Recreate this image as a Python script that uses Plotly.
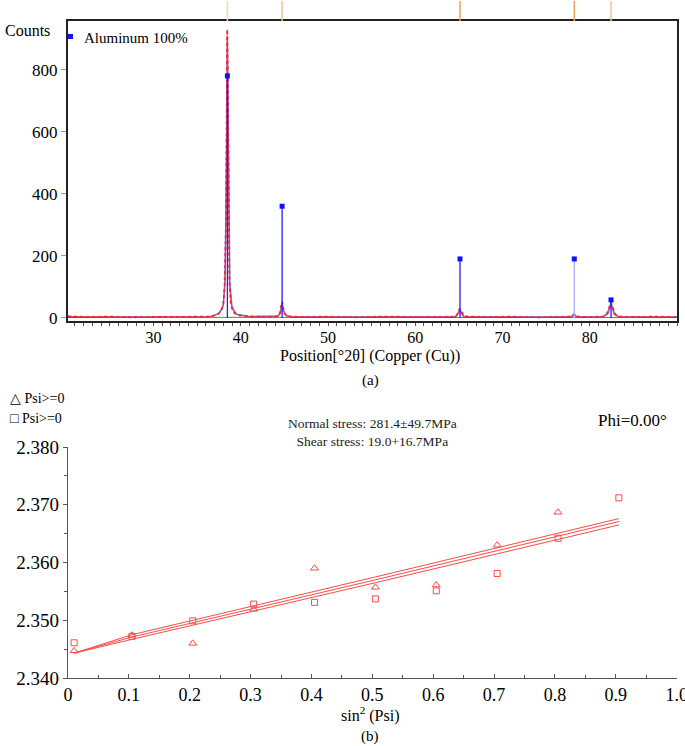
import plotly.graph_objects as go

# ---------------- (a) XRD pattern ----------------
two_theta_meas = [20.2, 22.5, 25.0, 27.5, 30.0, 32.5, 35.0, 36.5, 37.0, 37.5, 37.8, 38.0, 38.15, 38.3, 38.4, 38.45,
                  38.5, 38.55, 38.6, 38.7, 38.85, 39.0, 39.3, 39.8, 41.0, 43.0, 44.2, 44.5, 44.65, 44.74, 44.85,
                  45.0, 45.3, 47.0, 50.0, 53.0, 56.0, 59.0, 62.0, 64.6, 64.9, 65.1, 65.3, 65.6, 68.0, 71.0, 74.0,
                  77.0, 77.9, 78.2, 78.5, 80.0, 81.5, 82.0, 82.3, 82.44, 82.6, 82.9, 83.3, 85.0, 87.5, 90.0]
counts_meas = [5, 3, 4, 2, 3, 4, 3, 4, 8, 15, 25, 45, 100, 300, 700, 930,
               800, 600, 270, 120, 50, 30, 15, 8, 5, 3, 5, 15, 40, 52, 35,
               15, 5, 3, 4, 2, 4, 3, 3, 4, 15, 30, 18, 5, 3, 4, 2,
               3, 4, 12, 4, 3, 4, 15, 40, 50, 35, 12, 4, 3, 4, 3]

two_theta_calc = [20.2, 36.5, 37.5, 38.0, 38.2, 38.35, 38.47, 38.6, 38.75, 39.0, 39.5, 41.0, 44.3, 44.6, 44.74,
                  44.9, 45.2, 46.0, 64.6, 64.95, 65.1, 65.25, 65.6, 77.8, 78.23, 78.6, 81.6, 82.1, 82.3, 82.44,
                  82.6, 82.8, 83.3, 90.0]
counts_calc = [2, 4, 14, 40, 120, 450, 905, 420, 110, 35, 12, 4, 6, 20, 48,
               22, 7, 3, 3, 16, 27, 15, 3, 3, 9, 3, 4, 14, 38, 46,
               32, 12, 4, 2]

bg_theta = [20.2, 90.0]
bg_counts = [2, 1]

ref_pos = [38.47, 44.74, 65.13, 78.23, 82.44]
ref_int = [780, 360, 190, 190, 58]
ref_stick_colors = ["#2020ff", "#2020ff", "#2020ff", "#a8b0ff", "#2020ff"]
ref_top_colors = ["#ffd3b8", "#f8c090", "#f0a060", "#f0a060", "#f8c090"]

# ---------------- (b) sin^2 psi ----------------
sin2psi_tri = [0.01, 0.105, 0.205, 0.305, 0.405, 0.505, 0.605, 0.705, 0.805]
d_tri = [2.3447, 2.3474, 2.3460, 2.3519, 2.3590, 2.3557, 2.3561, 2.3630, 2.3687]
sin2psi_sq = [0.01, 0.105, 0.205, 0.305, 0.405, 0.505, 0.605, 0.705, 0.805, 0.905]
d_sq = [2.3461, 2.3472, 2.3499, 2.3528, 2.3531, 2.3537, 2.3551, 2.3581, 2.3642, 2.3712]

fit_x = [0.01, 0.105, 0.505, 0.905]
fit_upper = [2.3443, 2.3475, 2.3575, 2.3676]
fit_mid = [2.3443, 2.3471, 2.3570, 2.3671]
fit_lower = [2.3443, 2.3467, 2.3565, 2.3665]

x2_ticks = [0, 0.1, 0.2, 0.3, 0.4, 0.5, 0.6, 0.7, 0.8, 0.9, 1.0]
x2_ticktext = ["0", "0.1", "0.2", "0.3", "0.4", "0.5", "0.6", "0.7", "0.8", "0.9", "1.0"]

FONT = "Liberation Serif, Times New Roman, serif"
W, H = 685, 746

fig = go.Figure()

fig.add_trace(go.Scatter(x=bg_theta, y=bg_counts, mode="lines", line=dict(color="#30a030", width=1),
                         xaxis="x", yaxis="y", showlegend=False))
fig.add_trace(go.Scatter(x=two_theta_calc, y=counts_calc, mode="lines", line=dict(color="rgba(40,40,255,0.7)", width=1.4),
                         xaxis="x", yaxis="y", showlegend=False))
fig.add_trace(go.Scatter(x=two_theta_meas, y=counts_meas, mode="lines", line=dict(color="#ff2020", width=1.8, dash="dot"),
                         xaxis="x", yaxis="y", showlegend=False))
fig.add_trace(go.Scatter(x=two_theta_meas, y=counts_meas, mode="lines", line=dict(color="rgba(255,40,40,0.55)", width=1.2),
                         xaxis="x", yaxis="y", showlegend=False))
for p, h, c in zip(ref_pos, ref_int, ref_stick_colors):
    fig.add_trace(go.Scatter(x=[p, p], y=[0, h], mode="lines", line=dict(color=c, width=1.3),
                             xaxis="x", yaxis="y", showlegend=False))
fig.add_trace(go.Scatter(x=ref_pos, y=ref_int, mode="markers", marker=dict(symbol="square", size=5, color="#1010ff"),
                         xaxis="x", yaxis="y", showlegend=False))

for yy in (fit_upper, fit_mid, fit_lower):
    fig.add_trace(go.Scatter(x=fit_x, y=yy, mode="lines", line=dict(color="#ff4a4a", width=1),
                             xaxis="x2", yaxis="y2", showlegend=False))
fig.add_trace(go.Scatter(x=sin2psi_tri, y=d_tri, mode="markers",
                         marker=dict(symbol="triangle-up-open", size=7, color="#ff4a4a", line=dict(width=1)),
                         xaxis="x2", yaxis="y2", showlegend=False))
fig.add_trace(go.Scatter(x=sin2psi_sq, y=d_sq, mode="markers",
                         marker=dict(symbol="square-open", size=6, color="#ff4a4a", line=dict(width=1)),
                         xaxis="x2", yaxis="y2", showlegend=False))

def fx(px):
    return px / W

def fy(py):
    return 1 - py / H

shapes = []
for p, c in zip(ref_pos, ref_top_colors):
    shapes.append(dict(type="line", xref="x", yref="paper", x0=p, x1=p, y0=fy(21), y1=fy(1),
                       line=dict(color=c, width=1.5)))
shapes.append(dict(type="rect", xref="paper", yref="paper", x0=fx(68), x1=fx(73), y0=fy(39), y1=fy(34),
                   fillcolor="#1010ff", line=dict(width=0)))

annotations = [
    dict(text="Counts", x=fx(3), y=fy(30), xref="paper", yref="paper", xanchor="left", yanchor="middle",
         showarrow=False, font=dict(family=FONT, size=16, color="black")),
    dict(text="Aluminum 100%", x=fx(82), y=fy(38), xref="paper", yref="paper", xanchor="left", yanchor="middle",
         showarrow=False, font=dict(family=FONT, size=15, color="black")),
    dict(text="Position[°2θ] (Copper (Cu))", x=fx(370), y=fy(356), xref="paper", yref="paper",
         xanchor="center", yanchor="middle", showarrow=False, font=dict(family=FONT, size=16, color="black")),
    dict(text="(a)", x=fx(370), y=fy(380), xref="paper", yref="paper", xanchor="center", yanchor="middle",
         showarrow=False, font=dict(family=FONT, size=15, color="black")),
    dict(text="△ Psi>=0", x=fx(8), y=fy(398), xref="paper", yref="paper", xanchor="left", yanchor="middle",
         showarrow=False, font=dict(family=FONT, size=14, color="black")),
    dict(text="□ Psi>=0", x=fx(8), y=fy(418), xref="paper", yref="paper", xanchor="left", yanchor="middle",
         showarrow=False, font=dict(family=FONT, size=14, color="black")),
    dict(text="Normal stress: 281.4±49.7MPa<br>Shear stress: 19.0+16.7MPa", x=fx(372), y=fy(432),
         xref="paper", yref="paper", xanchor="center", yanchor="middle", showarrow=False, align="center",
         font=dict(family=FONT, size=13.5, color="#222")),
    dict(text="Phi=0.00°", x=fx(632), y=fy(420), xref="paper", yref="paper", xanchor="center", yanchor="middle",
         showarrow=False, font=dict(family=FONT, size=17, color="black")),
    dict(text="sin<sup>2</sup> (Psi)", x=fx(370), y=fy(714), xref="paper", yref="paper", xanchor="center",
         yanchor="middle", showarrow=False, font=dict(family=FONT, size=16, color="black")),
    dict(text="(b)", x=fx(370), y=fy(736), xref="paper", yref="paper", xanchor="center", yanchor="middle",
         showarrow=False, font=dict(family=FONT, size=15, color="black")),
]

fig.update_layout(
    width=W, height=H, margin=dict(l=0, r=0, t=0, b=0, autoexpand=False),
    paper_bgcolor="white", plot_bgcolor="white",
    font=dict(family=FONT, size=16, color="black"),
    showlegend=False,
    shapes=shapes, annotations=annotations,
    xaxis=dict(domain=[fx(68), fx(677)], range=[20.2, 90.0], anchor="y", automargin=False,
               tickvals=[30, 40, 50, 60, 70, 80], ticks="outside", ticklen=1, tickcolor="#555",
               minor=dict(dtick=1, ticks="outside", ticklen=3, tickcolor="#555"),
               showline=True, linecolor="#222", linewidth=2, mirror=True, showgrid=False, zeroline=False,
               tickfont=dict(family=FONT, size=16, color="black")),
    yaxis=dict(domain=[fy(321), fy(21)], range=[-10, 957], anchor="x", automargin=False,
               tickvals=[0, 200, 400, 600, 800], ticks="outside", ticklen=5, tickcolor="#999",
               showline=True, linecolor="#222", linewidth=2, mirror=True, showgrid=False, zeroline=False,
               tickfont=dict(family=FONT, size=17, color="black")),
    xaxis2=dict(domain=[fx(68), fx(677)], range=[0, 1.0005], anchor="y2", automargin=False,
                tickvals=x2_ticks, ticktext=x2_ticktext, ticklabeloverflow="allow",
                ticks="inside", ticklen=4, tickcolor="#555",
                minor=dict(dtick=0.05, ticks="inside", ticklen=3, tickcolor="#555"),
                showline=True, linecolor="#555", linewidth=1.2, showgrid=False, zeroline=False,
                tickfont=dict(family=FONT, size=18, color="black")),
    yaxis2=dict(domain=[fy(678), fy(447)], range=[2.340, 2.380], anchor="x2", automargin=False,
                tickvals=[2.34, 2.35, 2.36, 2.37, 2.38], tickformat=".3f",
                ticks="outside", ticklen=4, tickcolor="#555",
                minor=dict(dtick=0.005, ticks="outside", ticklen=3, tickcolor="#555"),
                showline=True, linecolor="#555", linewidth=1.2, showgrid=False, zeroline=False,
                tickfont=dict(family=FONT, size=19, color="black")),
)

fig.write_html("out.html", config={"displayModeBar": False},
               post_script="document.body.style.margin='0';document.body.style.overflow='hidden';")
